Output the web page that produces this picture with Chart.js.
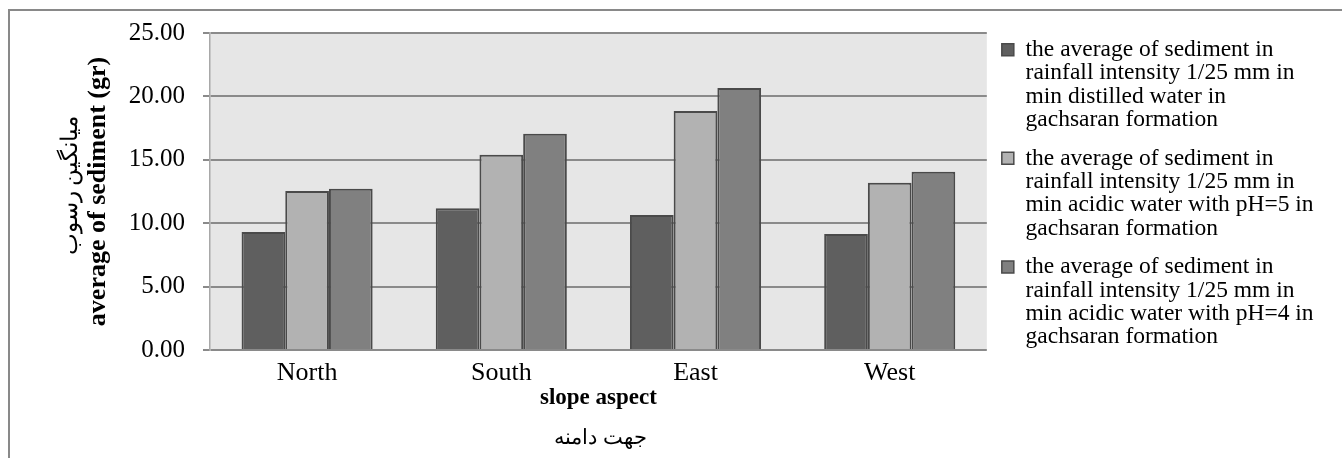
<!DOCTYPE html>
<html><head><meta charset="utf-8">
<script src="https://cdn.jsdelivr.net/npm/chart.js@4.4.1/dist/chart.umd.min.js"></script>
<style>html,body{margin:0;padding:0;background:#fff}#wrap{width:1342px;height:458px}</style>
</head><body><div id="wrap"><canvas id="c" width="1342" height="458"></canvas></div>
<script>
// ---- data ----
const categories = ['North', 'South', 'East', 'West'];
const distilled = [9.30, 11.17, 10.64, 9.14];
const acidicPH5 = [12.54, 15.40, 18.85, 13.19];
const acidicPH4 = [12.72, 17.06, 20.67, 14.06];
const seriesLabels = [
  ['the average of sediment in', 'rainfall intensity 1/25 mm in', 'min distilled water in', 'gachsaran formation'],
  ['the average of sediment in', 'rainfall intensity 1/25 mm in', 'min acidic water with pH=5 in', 'gachsaran formation'],
  ['the average of sediment in', 'rainfall intensity 1/25 mm in', 'min acidic water with pH=4 in', 'gachsaran formation']
];
const yMin = 0, yMax = 25, yStep = 5;
const yTitle = 'average of sediment (gr)';
const yTitleFa = 'میانگین رسوب';
const xTitle = 'slope aspect';
const xTitleFa = 'جهت دامنه';

// ---- style ----
const SERIF = '"Liberation Serif", "Times New Roman", serif';
const colors = ['#5f5f5f', '#b2b2b2', '#808080'];
const legendFontSize = 23.5;
const legendPad = 15;
const legendBox = 12;
const plotRight = 988;

// measure legend width to place chart area right edge
const mctx = document.createElement('canvas').getContext('2d');
mctx.font = legendFontSize + 'px ' + SERIF;
let maxW = 0;
seriesLabels.forEach(ls => ls.forEach(l => { maxW = Math.max(maxW, mctx.measureText(l).width); }));
const legendW = legendPad + legendBox + legendFontSize / 2 + maxW;
const padRight = Math.max(0, 1342 - plotRight - legendW - 1);

const framePlugin = {
  id: 'frame',
  beforeDraw(chart) {
    const {ctx, chartArea: a} = chart;
    ctx.save();
    ctx.fillStyle = '#e6e6e6';
    ctx.fillRect(a.left, a.top, a.right - a.left, a.bottom - a.top);
    ctx.strokeStyle = '#898989';
    ctx.lineWidth = 2;
    ctx.beginPath();
    ctx.moveTo(9, 458); ctx.lineTo(9, 10); ctx.lineTo(1342, 10);
    ctx.stroke();
    ctx.restore();
  },
  afterDraw(chart) {
    const {ctx, chartArea: a} = chart;
    ctx.save();
    ctx.fillStyle = '#000';
    ctx.textAlign = 'center';
    ctx.textBaseline = 'middle';
    ctx.font = '23px ' + SERIF;
    ctx.translate(71, (a.top + a.bottom) / 2 - 6);
    ctx.rotate(-Math.PI / 2);
    ctx.fillText(yTitleFa, 0, 0);
    ctx.restore();
    ctx.save();
    ctx.fillStyle = '#000';
    ctx.textAlign = 'center';
    ctx.textBaseline = 'middle';
    ctx.font = '21px ' + SERIF;
    ctx.fillText(xTitleFa, (a.left + a.right) / 2 + 2, 438);
    ctx.restore();
  }
};

const makeDs = (label, data, i) => ({
  label: label.join(' '), data,
  backgroundColor: colors[i], borderColor: '#4a4a4a', borderWidth: 2,
  categoryPercentage: 0.675, barPercentage: 1.0
});

new Chart(document.getElementById('c'), {
  type: 'bar',
  data: {
    labels: categories,
    datasets: [
      makeDs(seriesLabels[0], distilled, 0),
      makeDs(seriesLabels[1], acidicPH5, 1),
      makeDs(seriesLabels[2], acidicPH4, 2)
    ]
  },
  options: {
    responsive: false,
    animation: false,
    devicePixelRatio: 1,
    layout: {padding: {top: 23, right: padRight, bottom: 0, left: 0}},
    plugins: {
      tooltip: {enabled: false},
      title: {display: true, text: '', padding: 0, font: {size: 9, lineHeight: 1}},
      legend: {
        position: 'right', align: 'start',
        labels: {
          boxWidth: legendBox, boxHeight: legendBox, padding: legendPad, color: '#000',
          font: {family: SERIF, size: legendFontSize, lineHeight: '23.4px'},
          generateLabels(chart) {
            const items = Chart.defaults.plugins.legend.labels.generateLabels(chart);
            items.forEach((it, i) => { it.text = seriesLabels[i]; it.lineWidth = 1.5; });
            return items;
          }
        }
      }
    },
    scales: {
      x: {
        grid: {display: false, drawTicks: false},
        border: {display: false},
        ticks: {color: '#000', padding: 8, font: {family: SERIF, size: 26}},
        title: {display: true, text: xTitle, color: '#000', padding: {top: 0, bottom: 46},
          font: {family: SERIF, size: 23, weight: 'bold'}},
        afterFit(s) { s.height = 108; }
      },
      y: {
        min: yMin, max: yMax,
        grid: {color: '#8a8a8a', lineWidth: 2, tickLength: 7},
        border: {display: true, color: '#a8a8a8', width: 1.5},
        ticks: {stepSize: yStep, color: '#000', padding: 18, font: {family: SERIF, size: 25},
          callback: v => Number(v).toFixed(2)},
        title: {display: true, text: yTitle, color: '#000', padding: {top: 83, bottom: 0},
          font: {family: SERIF, size: 26, weight: 'bold'}},
        afterFit(s) { s.width = 210; }
      }
    }
  },
  plugins: [framePlugin]
});
</script></body></html>
